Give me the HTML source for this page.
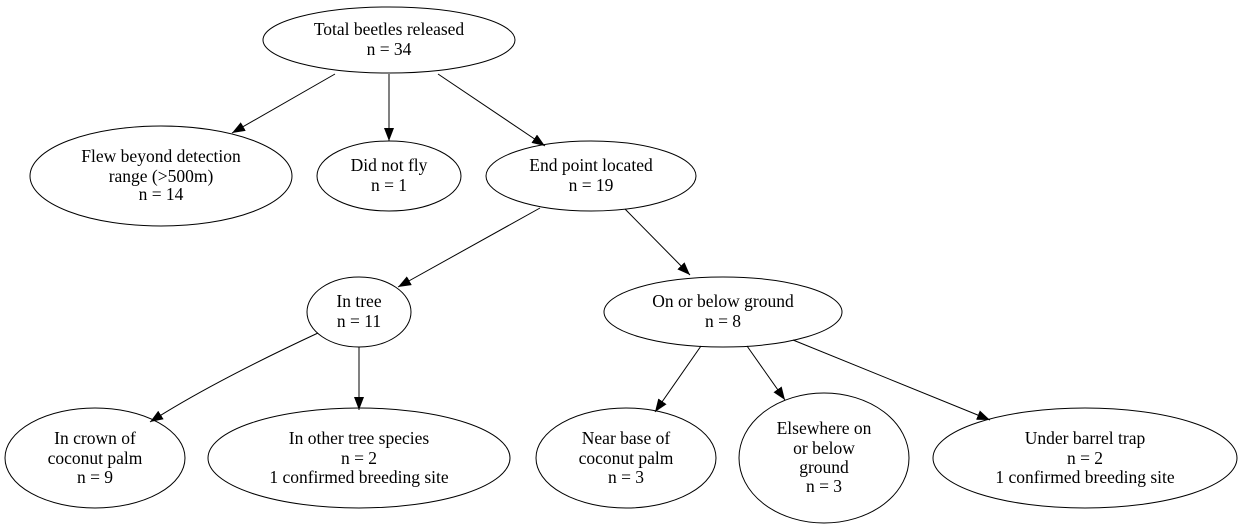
<!DOCTYPE html>
<html><head><meta charset="utf-8"><style>
html,body{margin:0;padding:0;background:#fff;}
svg{display:block;}
text{font-family:"Liberation Serif",serif;font-size:17.5px;fill:#000;text-anchor:middle;}
</style></head><body>
<svg width="1240" height="528" viewBox="0 0 1240 528" xmlns="http://www.w3.org/2000/svg">
<defs><marker id="a" markerWidth="13" markerHeight="10" refX="13" refY="5" orient="auto" markerUnits="userSpaceOnUse"><path d="M0,0 L13,5 L0,10 Z" fill="#000"/></marker></defs>
<g fill="none" stroke="#000" stroke-width="1">
<ellipse cx="389" cy="40" rx="126" ry="33"/>
<ellipse cx="161" cy="176" rx="131" ry="50"/>
<ellipse cx="389" cy="176" rx="72" ry="35"/>
<ellipse cx="591" cy="176" rx="105" ry="35"/>
<ellipse cx="359" cy="312" rx="52" ry="35"/>
<ellipse cx="723" cy="312" rx="119" ry="35"/>
<ellipse cx="95" cy="458" rx="90" ry="50"/>
<ellipse cx="359" cy="458" rx="151" ry="50"/>
<ellipse cx="626" cy="458" rx="90" ry="50"/>
<ellipse cx="824" cy="458" rx="85" ry="65"/>
<ellipse cx="1085" cy="458" rx="152" ry="50"/>
<g marker-end="url(#a)">
<path d="M335,74 L232,133"/>
<path d="M389,74 L389,141"/>
<path d="M438,74 L545,146"/>
<path d="M540,208 L398,287"/>
<path d="M625,209 L690,275"/>
<path d="M318,333 C260,360 200,390 150,422"/>
<path d="M359,347 L359,410"/>
<path d="M701,346 L655,412"/>
<path d="M747,346 L785,400"/>
<path d="M793,340 L990,420"/>
</g></g>
<text x="389" y="35">Total beetles released</text><text x="389" y="55">n = 34</text>
<text x="161" y="162">Flew beyond detection</text><text x="161" y="182">range (&gt;500m)</text><text x="161" y="200">n = 14</text>
<text x="389" y="171">Did not fly</text><text x="389" y="191">n = 1</text>
<text x="591" y="171">End point located</text><text x="591" y="191">n = 19</text>
<text x="359" y="307">In tree</text><text x="359" y="327">n = 11</text>
<text x="723" y="307">On or below ground</text><text x="723" y="327">n = 8</text>
<text x="95" y="444">In crown of</text><text x="95" y="464">coconut palm</text><text x="95" y="483">n = 9</text>
<text x="359" y="444">In other tree species</text><text x="359" y="464">n = 2</text><text x="359" y="483">1 confirmed breeding site</text>
<text x="626" y="444">Near base of</text><text x="626" y="464">coconut palm</text><text x="626" y="483">n = 3</text>
<text x="824" y="434">Elsewhere on</text><text x="824" y="454">or below</text><text x="824" y="473">ground</text><text x="824" y="492">n = 3</text>
<text x="1085" y="444">Under barrel trap</text><text x="1085" y="464">n = 2</text><text x="1085" y="483">1 confirmed breeding site</text>
</svg>
</body></html>
